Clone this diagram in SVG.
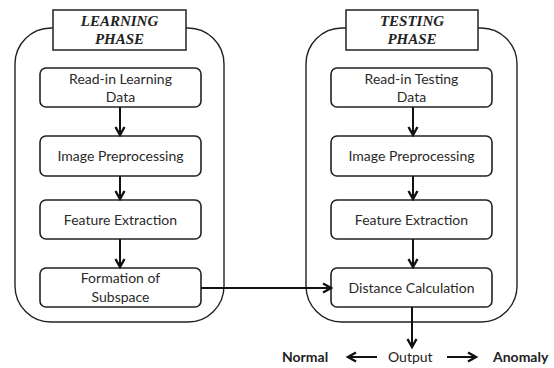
<svg xmlns="http://www.w3.org/2000/svg" width="554" height="368" viewBox="0 0 554 368">
  <defs>
    <marker id="arrow" markerWidth="12" markerHeight="12" viewBox="0 0 12 12" refX="10" refY="6" orient="auto" markerUnits="userSpaceOnUse">
      <path d="M2,1.5 L10,6 L2,10.5" fill="none" stroke="#111" stroke-width="2.4" stroke-linejoin="miter"/>
    </marker>
  </defs>
  <style>
    .phase { fill: #fff; stroke: #222; stroke-width: 1.4; }
    .title { fill: #fff; stroke: #222; stroke-width: 1.5; }
    .box { fill: #fff; stroke: #222; stroke-width: 1.6; }
    .ttl { font-family: "Liberation Serif", serif; font-style: italic; font-weight: bold; font-size: 15px; fill: #222; text-anchor: middle; }
    .lbl { font-family: Lato, "Open Sans", sans-serif; font-size: 14px; fill: #2a2a2a; text-anchor: middle; }
    .out { font-family: Lato, "Open Sans", sans-serif; font-size: 14px; fill: #222; }
    .bold { font-weight: bold; }
    .conn { stroke: #111; stroke-width: 2; fill: none; }
  </style>
  <rect width="554" height="368" fill="#fff"/>

  <!-- learning phase container -->
  <g id="learning-phase">
    <rect class="phase" x="15" y="28" width="209" height="294" rx="36"/>
    <rect class="title" x="53" y="10" width="133" height="40"/>
    <text class="ttl" x="119.5" y="26">LEARNING</text>
    <text class="ttl" x="119.5" y="44">PHASE</text>
  </g>

  <!-- testing phase container -->
  <g id="testing-phase">
    <rect class="phase" x="306" y="28" width="211" height="294" rx="36"/>
    <rect class="title" x="346" y="10" width="132" height="40"/>
    <text class="ttl" x="412" y="26">TESTING</text>
    <text class="ttl" x="412" y="44">PHASE</text>
  </g>

  <g id="read-learning">
    <rect class="box" x="40" y="68" width="161" height="39" rx="6"/>
    <text class="lbl" x="120.5" y="84">Read-in Learning</text>
    <text class="lbl" x="120.5" y="102">Data</text>
  </g>
  <g id="preproc-learning">
    <rect class="box" x="40" y="136" width="161" height="40" rx="6"/>
    <text class="lbl" x="120.5" y="161">Image Preprocessing</text>
  </g>
  <g id="feature-learning">
    <rect class="box" x="40" y="200" width="161" height="39" rx="6"/>
    <text class="lbl" x="120.5" y="225">Feature Extraction</text>
  </g>
  <g id="subspace">
    <rect class="box" x="40" y="268" width="161" height="39" rx="6"/>
    <text class="lbl" x="120.5" y="283">Formation of</text>
    <text class="lbl" x="120.5" y="302">Subspace</text>
  </g>

  <g id="read-testing">
    <rect class="box" x="331" y="68" width="161" height="39" rx="6"/>
    <text class="lbl" x="411.5" y="84">Read-in Testing</text>
    <text class="lbl" x="411.5" y="102">Data</text>
  </g>
  <g id="preproc-testing">
    <rect class="box" x="331" y="136" width="161" height="40" rx="6"/>
    <text class="lbl" x="411.5" y="161">Image Preprocessing</text>
  </g>
  <g id="feature-testing">
    <rect class="box" x="331" y="200" width="161" height="39" rx="6"/>
    <text class="lbl" x="411.5" y="225">Feature Extraction</text>
  </g>
  <g id="distance">
    <rect class="box" x="331" y="268" width="161" height="39" rx="6"/>
    <text class="lbl" x="411.5" y="293">Distance Calculation</text>
  </g>

  <g id="output">
    <text class="out bold" x="282" y="362">Normal</text>
    <text class="out" x="388" y="362">Output</text>
    <text class="out bold" x="493" y="362">Anomaly</text>
  </g>

  <!-- connectors -->
  <g id="connectors">
    <line class="conn" x1="120" y1="107" x2="120" y2="135" marker-end="url(#arrow)"/>
    <line class="conn" x1="120" y1="176" x2="120" y2="199" marker-end="url(#arrow)"/>
    <line class="conn" x1="120" y1="239" x2="120" y2="267" marker-end="url(#arrow)"/>
    <line class="conn" x1="413" y1="107" x2="413" y2="135" marker-end="url(#arrow)"/>
    <line class="conn" x1="413" y1="176" x2="413" y2="199" marker-end="url(#arrow)"/>
    <line class="conn" x1="413" y1="239" x2="413" y2="267" marker-end="url(#arrow)"/>
    <polyline class="conn" points="201,288 331,288" marker-end="url(#arrow)"/>
    <line class="conn" x1="412" y1="307" x2="412" y2="347" marker-end="url(#arrow)"/>
    <line class="conn" x1="377" y1="357" x2="348" y2="357" marker-end="url(#arrow)"/>
    <line class="conn" x1="447" y1="357" x2="476" y2="357" marker-end="url(#arrow)"/>
  </g>
</svg>
